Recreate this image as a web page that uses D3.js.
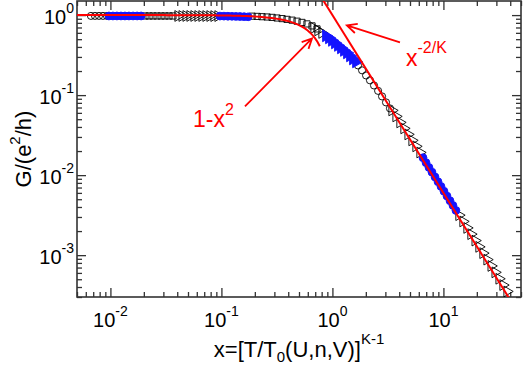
<!DOCTYPE html>
<html lang="en">
<head>
<meta charset="utf-8">
<title>Conductance scaling</title>
<script src="https://d3js.org/d3.v7.min.js"></script>
<style>
  body { margin: 0; background: #fff; }
  text { font-family: "Liberation Sans", Arial, Helvetica, sans-serif; }
</style>
</head>
<body>
<div id="chart"></div>
<script>
  var w = 523;
  var h = 367;
  var frame = {l: 77, r: 521, t: 1, b: 297};

  // data: x values and G/(e^2/h)
  var circleX = [0.00668, 0.00726, 0.00789, 0.00857, 0.00931,
                 1.70, 1.85, 2.01, 2.18, 2.37, 2.58, 2.80, 3.04, 3.30];
  var circleG = [0.977, 0.977, 0.977, 0.977, 0.977,
                 0.235, 0.204, 0.176, 0.153, 0.132, 0.113, 0.0964, 0.0811, 0.0682];

  var blueCircleX = [0.0097, 0.01054, 0.01145, 0.01245, 0.01352, 0.01469, 0.016, 0.0174, 0.0189,
                     0.097, 0.1054, 0.1145, 0.1245, 0.1352, 0.1469, 0.160, 0.174,
                     6.55, 6.97, 7.41, 7.89, 8.40, 8.94, 9.51, 10.12, 10.77, 11.46, 12.19, 12.97];
  var blueCircleG = [0.975, 0.975, 0.975, 0.975, 0.975, 0.975, 0.975, 0.975, 0.975,
                     0.972, 0.970, 0.968, 0.966, 0.963, 0.960, 0.956, 0.952,
                     0.0165, 0.01433, 0.01248, 0.0109, 0.00949, 0.00827, 0.00722, 0.00629,
                     0.00548, 0.00479, 0.00418, 0.00362];

  var squareX = [0.0205, 0.0223, 0.0242, 0.0263, 0.0286, 0.0310, 0.0337, 0.0366,
                 0.189, 0.210, 0.232, 0.258, 0.286, 0.317, 0.352, 0.390, 0.433, 0.480,
                 0.532, 0.590, 0.655, 0.726];
  var squareG = [0.975, 0.975, 0.975, 0.975, 0.975, 0.975, 0.975, 0.975,
                 0.969, 0.963, 0.955, 0.947, 0.936, 0.920, 0.904, 0.884, 0.864, 0.839,
                 0.810, 0.776, 0.733, 0.672];

  var triX = [0.0406, 0.0442, 0.0480, 0.0521, 0.0566, 0.0615, 0.0668, 0.0726, 0.0789, 0.0857, 0.0931,
              0.682, 0.741, 0.805,
              3.44, 3.74, 4.06, 4.41, 4.80, 5.21, 5.66, 6.15,
              13.8, 15.0, 16.3, 17.7, 19.3, 20.9, 22.7, 24.7, 26.9, 29.2, 31.7, 34.4, 37.4];
  var triG = [0.975, 0.975, 0.975, 0.975, 0.975, 0.974, 0.974, 0.973, 0.973, 0.972, 0.972,
              0.692, 0.644, 0.599,
              0.0644, 0.0542, 0.0456, 0.0384, 0.0323, 0.0272, 0.0229, 0.0192,
              0.00316, 0.00264, 0.00219, 0.00183, 0.00152, 0.00127, 0.00106, 0.000879,
              0.000733, 0.000610, 0.000507, 0.000423, 0.000352];

  var blueTriX = [0.875, 0.931, 0.991, 1.054, 1.122, 1.194, 1.271, 1.353, 1.440, 1.532, 1.632];
  var blueTriG = [0.550, 0.519, 0.483, 0.449, 0.418, 0.389, 0.362, 0.337, 0.309, 0.283, 0.260];

  // fit parameters
  var K = 0.9;
  var smallXmax = 0.77;

  // ticks
  var xMajor = [0.01, 0.1, 1, 10];
  var xMajorExp = ["-2", "-1", "0", "1"];
  var yMajor = [1, 0.1, 0.01, 0.001];
  var yMajorExp = ["0", "-1", "-2", "-3"];

  var xScale = d3.scaleLog().domain([0.005, 50]).range([frame.l, frame.r]);
  var yScale = d3.scaleLog().domain([3e-4, 1.5]).range([frame.b, frame.t]);

  var svg = d3.select("#chart")
    .append("svg")
    .attr("width", w)
    .attr("height", h);

  svg.append("defs").append("clipPath")
    .attr("id", "plotclip")
    .append("rect")
    .attr("x", frame.l).attr("y", frame.t)
    .attr("width", frame.r - frame.l).attr("height", frame.b - frame.t);

  // axes (ticks point inward, mirrored on all four sides)
  var xMinor = xScale.ticks().filter(d => xMajor.indexOf(+d.toPrecision(6)) < 0);
  var yMinor = yScale.ticks().filter(d => yMajor.indexOf(+d.toPrecision(6)) < 0);

  function addAxis(gen, tx, ty, vals, size) {
    svg.append("g")
      .attr("transform", "translate(" + tx + "," + ty + ")")
      .call(gen.tickValues(vals).tickSizeInner(-size).tickSizeOuter(0).tickFormat(""))
      .call(g => g.select(".domain").remove())
      .call(g => g.selectAll("line").attr("stroke", "#333").attr("stroke-width", 1.3));
  }
  addAxis(d3.axisBottom(xScale), 0, frame.b, xMajor, 9);
  addAxis(d3.axisBottom(xScale), 0, frame.b, xMinor, 5);
  addAxis(d3.axisTop(xScale), 0, frame.t, xMajor, 9);
  addAxis(d3.axisTop(xScale), 0, frame.t, xMinor, 5);
  addAxis(d3.axisLeft(yScale), frame.l, 0, yMajor, 9);
  addAxis(d3.axisLeft(yScale), frame.l, 0, yMinor, 5);
  addAxis(d3.axisRight(yScale), frame.r, 0, yMajor, 9);
  addAxis(d3.axisRight(yScale), frame.r, 0, yMinor, 5);

  svg.append("rect")
    .attr("x", frame.l).attr("y", frame.t)
    .attr("width", frame.r - frame.l).attr("height", frame.b - frame.t)
    .attr("fill", "none")
    .attr("stroke", "#333")
    .attr("stroke-width", 1.6);

  // tick labels with superscript exponents
  xMajor.forEach(function(v, i) {
    var t = svg.append("text")
      .attr("x", xScale(v))
      .attr("y", 327)
      .attr("text-anchor", "middle")
      .attr("font-size", 20)
      .attr("fill", "#000");
    t.append("tspan").text("10");
    t.append("tspan").attr("dy", -11).attr("font-size", 14).text(xMajorExp[i]);
  });
  yMajor.forEach(function(v, i) {
    var t = svg.append("text")
      .attr("x", 74)
      .attr("y", yScale(v) + 9)
      .attr("text-anchor", "end")
      .attr("font-size", 20)
      .attr("fill", "#000");
    t.append("tspan").text("10");
    t.append("tspan").attr("dy", -11).attr("font-size", 14).text(yMajorExp[i]);
  });

  // axis titles
  var xl = svg.append("text")
    .attr("x", (frame.l + frame.r) / 2)
    .attr("y", 357)
    .attr("text-anchor", "middle")
    .attr("font-size", 22);
  xl.append("tspan").text("x=[T/T");
  xl.append("tspan").attr("dy", 5).attr("font-size", 15).text("0");
  xl.append("tspan").attr("dy", -5).text("(U,n,V)]");
  xl.append("tspan").attr("dy", -13).attr("font-size", 15).text("K-1");

  var yl = svg.append("text")
    .attr("transform", "translate(31," + (frame.t + frame.b) / 2 + ") rotate(-90)")
    .attr("text-anchor", "middle")
    .attr("font-size", 22);
  yl.append("tspan").text("G/(e");
  yl.append("tspan").attr("dy", -11).attr("font-size", 15).text("2");
  yl.append("tspan").attr("dy", 11).text("/h)");

  // data markers
  var plot = svg.append("g").attr("clip-path", "url(#plotclip)");

  function zip(xs, gs) { return xs.map((d, i) => [d, gs[i]]); }

  function drawSeries(xs, gs, type, size, rot, fill, stroke) {
    plot.append("g").selectAll("path")
      .data(zip(xs, gs))
      .join("path")
      .attr("d", d3.symbol().type(type).size(size))
      .attr("transform", d => "translate(" + xScale(d[0]) + "," + yScale(d[1]) + ") rotate(" + rot + ")")
      .attr("fill", fill)
      .attr("stroke", stroke)
      .attr("stroke-width", 0.9);
  }
  drawSeries(circleX, circleG, d3.symbolCircle, 40, 0, "none", "#000");
  drawSeries(squareX, squareG, d3.symbolSquare, 38, 0, "none", "#000");
  drawSeries(triX, triG, d3.symbolTriangle, 50, 90, "none", "#000");
  drawSeries(blueCircleX, blueCircleG, d3.symbolCircle, 48, 0, "#1414ff", "#1414ff");
  drawSeries(blueTriX, blueTriG, d3.symbolTriangle, 60, 90, "#1414ff", "#1414ff");

  // fit curves: 1-x^2 and x^(-2/K)
  var lineGen = d3.line().x(d => xScale(d[0])).y(d => yScale(d[1]));
  var smallX = d3.range(0, 101).map(i => 0.005 * Math.pow(smallXmax / 0.005, i / 100));
  plot.append("path")
    .attr("d", lineGen(smallX.map(v => [v, 1 - v * v])))
    .attr("fill", "none").attr("stroke", "#ff0000").attr("stroke-width", 2);
  plot.append("path")
    .attr("d", lineGen([0.5, 50].map(v => [v, Math.pow(v, -2 / K)])))
    .attr("fill", "none").attr("stroke", "#ff0000").attr("stroke-width", 2);

  // annotations
  function arrow(x0, g0, x1, g1) {
    var ax = xScale(x0), ay = yScale(g0), bx = xScale(x1), by = yScale(g1);
    var ang = Math.atan2(by - ay, bx - ax);
    var len = 11, spread = 0.45;
    var p = d3.path();
    p.moveTo(ax, ay); p.lineTo(bx, by);
    p.moveTo(bx - len * Math.cos(ang - spread), by - len * Math.sin(ang - spread));
    p.lineTo(bx, by);
    p.lineTo(bx - len * Math.cos(ang + spread), by - len * Math.sin(ang + spread));
    svg.append("path").attr("d", p.toString())
      .attr("fill", "none").attr("stroke", "#ff0000").attr("stroke-width", 1.8);
  }
  arrow(0.163, 0.0722, 0.655, 0.511);
  arrow(4.06, 0.456, 1.35, 0.743);

  var n1 = svg.append("text")
    .attr("x", xScale(0.0555)).attr("y", yScale(0.0395))
    .attr("font-size", 23).attr("fill", "#ff0000");
  n1.append("tspan").text("1-x");
  n1.append("tspan").attr("dy", -12).attr("font-size", 16).text("2");

  var n2 = svg.append("text")
    .attr("x", xScale(4.60)).attr("y", yScale(0.229))
    .attr("font-size", 23).attr("fill", "#ff0000");
  n2.append("tspan").text("x");
  n2.append("tspan").attr("dy", -13).attr("font-size", 16).text("-2/K");
</script>
</body>
</html>
